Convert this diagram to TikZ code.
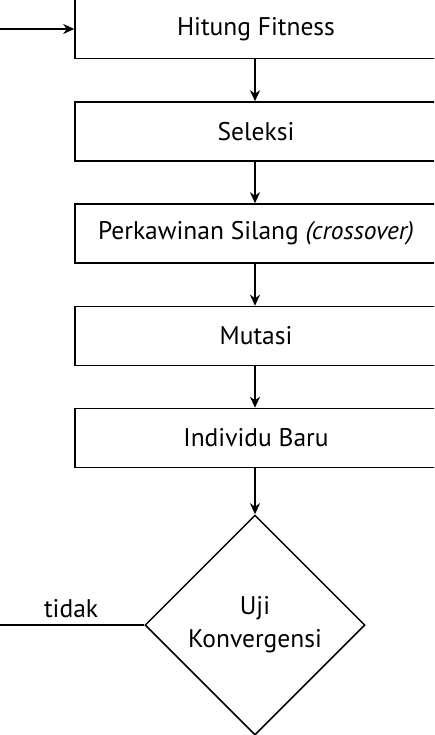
\documentclass[tikz,border=0pt]{standalone}
\usepackage{fontspec}
\setmainfont{PT Sans}
\usetikzlibrary{shapes.geometric,arrows.meta}
\begin{document}
\begin{tikzpicture}[x=1pt,y=-1pt,
  procbox/.style={draw,line width=1.5pt,minimum width=362pt,minimum height=59pt,inner sep=0pt,font=\fontsize{25.5}{30}\selectfont},
  decide/.style={draw,diamond,aspect=1,line width=1.5pt,minimum width=220pt,minimum height=220pt,inner sep=0pt,align=center,font=\fontsize{25.5}{33}\selectfont},
  flow/.style={line width=2.2pt,-{Stealth[length=11pt,width=10pt,inset=3.5pt]}},
  plain/.style={line width=2.2pt}]
\useasboundingbox (0,0) rectangle (434,735);
\clip (0,0) rectangle (434,735);
\node[procbox] (fit) at (256,29) {Hitung Fitness};
\node[procbox] (sel) at (256,131.5) {Seleksi};
\node[procbox] (cross) at (256,233.5) {Perkawinan Silang \textit{(crossover)}};
\node[procbox] (mut) at (256,336) {Mutasi};
\node[procbox] (baru) at (256,438) {Individu Baru};
\node[decide] (uji) at (255,625) {Uji\\Konvergensi};
\coordinate (in) at (-2,29);
\coordinate (out) at (-2,625);
\draw[flow] (in) -- (fit.west);
\draw[flow] (255,0|-fit.south) -- (255,0|-sel.north);
\draw[flow] (255,0|-sel.south) -- (255,0|-cross.north);
\draw[flow] (255,0|-cross.south) -- (255,0|-mut.north);
\draw[flow] (255,0|-mut.south) -- (255,0|-baru.north);
\draw[flow] (255,0|-baru.south) -- (uji.north);
\draw[plain] (uji.west) -- (out) node[pos=0.5,above=3pt,font=\fontsize{25.5}{30}\selectfont] (lbl) {tidak};
\end{tikzpicture}
\end{document}
